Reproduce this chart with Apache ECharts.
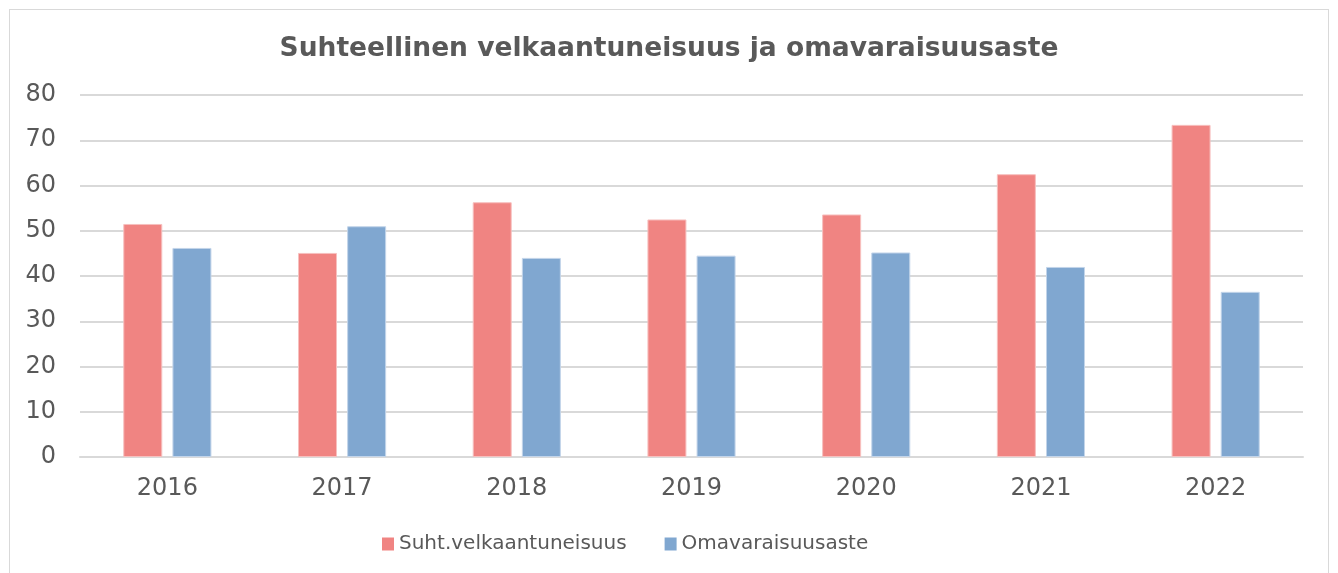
<!DOCTYPE html>
<html>
<head>
<meta charset="utf-8">
<script src="https://cdn.jsdelivr.net/npm/echarts@6/dist/echarts.min.js"></script>
<style>
  html, body { margin: 0; padding: 0; background: #fff; overflow: hidden; }
  #frame { position: absolute; left: 9px; top: 9px; width: 1320px; height: 600px; border: 1px solid #d9d9d9; box-sizing: border-box; }
  #chart { position: absolute; left: 0; top: 0; width: 1338px; height: 573px; }
</style>
</head>
<body>
<div id="frame"></div>
<div id="chart"></div>
<script>
const years = ['2016', '2017', '2018', '2019', '2020', '2021', '2022'];
const velkaantuneisuus = [51.5, 45.1, 56.3, 52.5, 53.6, 62.5, 73.4];
const omavaraisuusaste = [46.2, 51.0, 44.0, 44.5, 45.2, 42.0, 36.5];

const chartDom = document.getElementById('chart');
const myChart = echarts.init(chartDom);
const font = 'Verdana, "DejaVu Sans", sans-serif';

const option = {
  animation: false,
  title: {
    text: 'Suhteellinen velkaantuneisuus ja omavaraisuusaste',
    left: 'center',
    top: 31,
    textStyle: { fontFamily: font, fontSize: 26.5, fontWeight: 'bold', color: '#595959' }
  },
  legend: {
    bottom: 14,
    left: 377,
    itemWidth: 12,
    itemHeight: 13,
    itemGap: 38,
    icon: 'rect',
    itemStyle: { borderWidth: 0 },
    textStyle: { fontFamily: font, fontSize: 20, color: '#595959' }
  },
  grid: { left: 80, right: 35, top: 95, bottom: 116 },
  xAxis: {
    type: 'category',
    data: years,
    axisLine: { lineStyle: { color: '#d9d9d9', width: 2 } },
    axisTick: { show: false },
    axisLabel: { fontFamily: font, fontSize: 24, color: '#595959', margin: 20 }
  },
  yAxis: {
    type: 'value',
    min: 0,
    max: 80,
    interval: 10,
    axisLabel: { fontFamily: font, fontSize: 24, color: '#595959', margin: 24 },
    splitLine: { lineStyle: { color: '#d9d9d9', width: 2 } }
  },
  series: [
    {
      name: 'Suht.velkaantuneisuus',
      type: 'bar',
      data: velkaantuneisuus,
      barWidth: 39,
      barGap: '26%',
      itemStyle: { color: '#f08482', borderColor: '#f7c0bf', borderWidth: 1 }
    },
    {
      name: 'Omavaraisuusaste',
      type: 'bar',
      data: omavaraisuusaste,
      barWidth: 39,
      itemStyle: { color: '#80a7d0', borderColor: '#c3d5ea', borderWidth: 1 }
    }
  ]
};

option && myChart.setOption(option);
</script>
</body>
</html>
